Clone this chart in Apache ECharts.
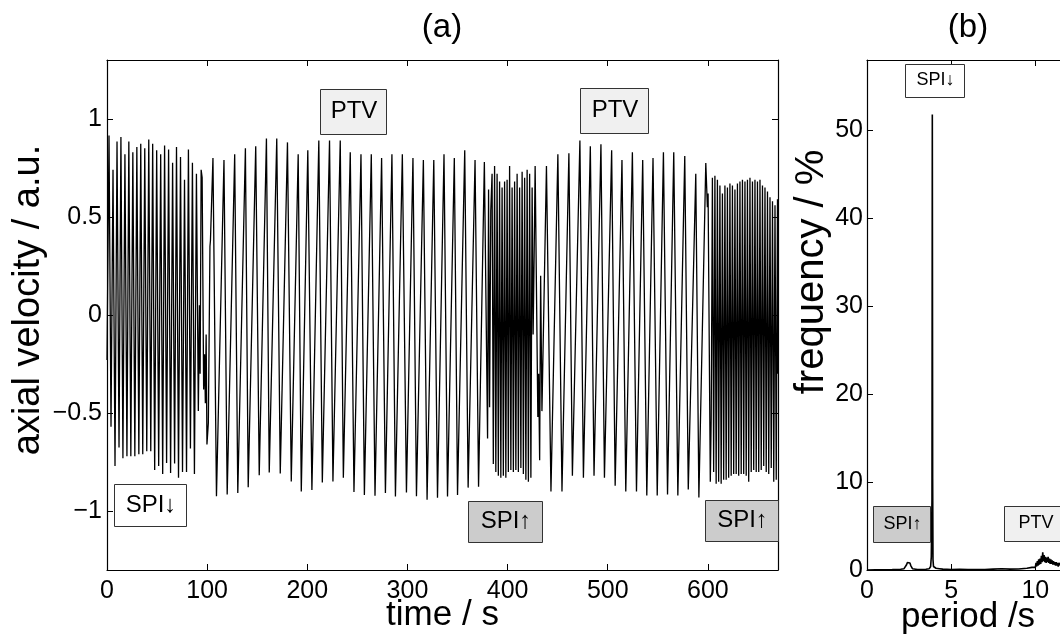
<!DOCTYPE html>
<html>
<head>
<meta charset="utf-8">
<script src="https://cdn.jsdelivr.net/npm/echarts@6/dist/echarts.min.js"></script>
<style>html,body{margin:0;padding:0;background:#fff}#c{width:1060px;height:635px}</style>
</head>
<body>
<div id="c"></div>
<script>
// ---------- Panel (a): axial velocity vs time (extrema) ----------
const spiDownSeg = [[0,-0.23],[2.0,0.915],[4.0,-0.57],[6.0,0.74],[8.0,-0.77],[10.0,0.885],[12.0,-0.675],[13.9,0.907],[15.9,-0.73],[17.9,0.82],[19.9,-0.72],[21.8,0.885],[23.8,-0.72],[25.8,0.83],[27.8,-0.72],[29.8,0.856],[31.8,-0.71],[33.7,0.873],[35.7,-0.71],[37.7,0.85],[39.7,-0.695],[41.7,0.895],[43.7,-0.695],[45.6,0.873],[47.6,-0.79],[49.6,0.84],[51.6,-0.77],[53.6,0.82],[55.6,-0.81],[57.5,0.864],[59.5,-0.754],[61.5,0.844],[63.5,-0.805],[65.5,0.776],[67.5,-0.757],[69.4,0.856],[71.4,-0.83],[73.4,0.805],[75.4,-0.80],[77.4,0.69],[79.4,-0.80],[81.3,0.844],[83.3,-0.68],[85.3,0.776],[87.3,-0.81],[89.3,0.72],[91.2,-0.49],[92.3,0.05],[93.0,-0.3],[94.0,0.74],[95.0,0.70],[96.5,-0.38],[97.4,-0.2],[98.2,-0.45],[99.0,-0.1],[99.8,-0.66],[101.2,-0.55],[102.8,0.35],[103.3,0.38]];
const ptvSeg1 = [[105.8,0.80],[109.3,-0.924],[116.8,0.79],[120.0,-0.915],[127.5,0.82],[130.6,-0.907],[138.2,0.85],[141.0,-0.878],[148.5,0.86],[152.0,-0.817],[159.2,0.90],[162.0,-0.803],[169.5,0.90],[173.0,-0.808],[180.2,0.88],[184.0,-0.849],[190.9,0.82],[194.0,-0.90],[200.5,0.84],[204.6,-0.892],[211.5,0.89],[215.0,-0.854],[222.2,0.89],[225.6,-0.849],[232.9,0.89],[236.0,-0.83],[242.9,0.83],[246.6,-0.902],[253.6,0.82],[257.0,-0.917],[263.9,0.82],[267.6,-0.922],[274.2,0.80],[278.0,-0.907],[284.5,0.82],[288.0,-0.925],[294.9,0.82],[299.0,-0.905],[305.5,0.80],[309.0,-0.924],[315.9,0.79],[319.6,-0.942],[326.3,0.79],[330.0,-0.932],[336.5,0.82],[340.0,-0.925],[346.8,0.80],[350.0,-0.917],[357.2,0.84],[360.6,-0.88],[367.5,0.79],[371.0,-0.876],[376.8,0.78],[380.0,-0.63],[381.0,0.64],[382.0,-0.47],[383.2,0.53]];
const spiUpSeg1 = [[384.5,0.72],[385.75,-0.76],[387.0,0.76],[388.25,-0.80],[389.5,0.72],[390.75,-0.82],[392.0,0.68],[393.25,-0.83],[394.5,0.65],[395.75,-0.82],[397.0,0.68],[398.25,-0.83],[399.5,0.69],[400.75,-0.80],[402.0,0.76],[403.25,-0.79],[404.5,0.65],[405.75,-0.80],[407.0,0.68],[408.25,-0.79],[409.5,0.72],[410.75,-0.80],[412.0,0.65],[413.25,-0.78],[414.5,0.73],[415.75,-0.81],[417.0,0.70],[418.25,-0.84],[419.5,0.74],[420.75,-0.85],[422.0,0.72],[423.25,-0.83]];
const ptvSeg2 = [[424.5,0.65],[425.5,-0.1],[426.5,0.3],[427.5,0.76],[430.2,-0.52],[431.0,-0.3],[432.0,-0.74],[433.0,0.2],[434.3,-0.49],[438.8,0.76],[443.3,-0.90],[450.2,0.82],[454.3,-0.90],[461.2,0.825],[464.7,-0.82],[472.2,0.89],[475.7,-0.83],[482.6,0.86],[486.3,-0.82],[493.2,0.87],[496.7,-0.83],[503.9,0.84],[507.4,-0.87],[514.2,0.79],[518.0,-0.90],[524.6,0.83],[528.7,-0.90],[534.9,0.79],[539.0,-0.92],[545.2,0.80],[549.4,-0.92],[555.6,0.83],[559.7,-0.915],[565.9,0.83],[570.0,-0.92],[576.9,0.81],[580.4,-0.89],[587.9,0.72],[591.0,-0.93],[597.9,0.775],[599.5,0.55],[600.2,0.62],[602.4,-0.85],[603.3,-0.53]];
const spiUpSeg2 = [[604.5,0.70],[605.75,-0.80],[607.0,0.71],[608.25,-0.86],[609.5,0.69],[610.75,-0.85],[612.0,0.66],[613.25,-0.86],[614.5,0.62],[615.75,-0.84],[617.0,0.66],[618.25,-0.84],[619.5,0.65],[620.75,-0.83],[622.0,0.67],[623.25,-0.82],[624.5,0.66],[625.75,-0.81],[627.0,0.64],[628.25,-0.81],[629.5,0.67],[630.75,-0.82],[632.0,0.68],[633.25,-0.81],[634.5,0.69],[635.75,-0.81],[637.0,0.68],[638.25,-0.82],[639.5,0.69],[640.75,-0.85],[642.0,0.70],[643.25,-0.80],[644.5,0.68],[645.75,-0.79],[647.0,0.69],[648.25,-0.80],[649.5,0.68],[650.75,-0.80],[652.0,0.69],[653.25,-0.79],[654.5,0.66],[655.75,-0.77],[657.0,0.65],[658.25,-0.80],[659.5,0.63],[660.75,-0.81],[662.0,0.60],[663.25,-0.78],[664.5,0.58],[665.75,-0.85],[667.0,0.56],[668.25,-0.84],[669.5,0.59],[670.0,-0.3]];

// ---------- Panel (b): frequency vs period ----------
const periodB = [0,0.5,1.0,1.5,1.8,2.0,2.2,2.3,2.35,2.4,2.45,2.5,2.55,2.6,2.65,2.7,2.8,3.0,3.2,3.5,3.7,3.78,3.82,3.86,3.88,3.9,3.92,3.95,4.0,4.1,4.2,4.3,4.5,5.0,5.5,6.0,6.5,7.0,7.5,8.0,8.5,9.0,9.5,9.8,10.0,10.04,10.08,10.12,10.16,10.2,10.24,10.28,10.32,10.36,10.4,10.44,10.48,10.52,10.56,10.6,10.64,10.68,10.72,10.76,10.8,10.84,10.88,10.92,10.96,11.0,11.04,11.08,11.12,11.16,11.2,11.24,11.28,11.32,11.36,11.4,11.5,11.6,11.7,11.8,12.0];
const freqB   = [0,0.02,0.03,0.04,0.05,0.08,0.15,0.35,0.6,0.85,0.95,1.0,0.8,0.5,0.3,0.15,0.08,0.05,0.05,0.08,0.15,0.4,1.5,8.0,51.8,10.4,1.2,0.4,0.3,0.2,0.4,0.15,0.1,0.05,0.08,0.05,0.06,0.05,0.1,0.15,0.1,0.12,0.2,0.3,0.3,0.8,0.4,1.0,0.5,1.2,0.6,1.3,0.7,1.6,0.9,2.0,1.0,1.7,0.9,1.5,0.8,1.4,0.9,1.5,0.8,1.3,0.7,1.2,0.7,1.1,0.6,1.0,0.6,0.9,0.5,0.9,0.5,0.8,0.4,0.8,0.5,0.6,0.4,0.5,0.3];

const xTicksA = [0,100,200,300,400,500,600];
const yTicksA = [-1,-0.5,0,0.5,1];
const yTicksB = [0,10,20,30,40,50];
const xTicksB = [0,5,10];

const seriesA = [].concat(spiDownSeg, ptvSeg1, spiUpSeg1, ptvSeg2, spiUpSeg2);
const seriesB = periodB.map((p,i)=>[p,freqB[i]]);

const FONT = "'Liberation Sans', Arial, Helvetica, sans-serif";
const minus = v => String(v).replace('-', '\u2212');

function axisBase(extra){
  return Object.assign({
    type:'value',
    nameMoveOverlap:false,
    axisLine:{show:true, onZero:false, lineStyle:{color:'#000', width:1.2}},
    axisTick:{show:true, inside:true, length:6, lineStyle:{color:'#000', width:1}},
    splitLine:{show:false},
    axisLabel:{color:'#000', fontSize:25, fontFamily:FONT, margin:9},
    nameTextStyle:{color:'#000', fontSize:34, fontFamily:FONT}
  }, extra);
}

function box(x,y,w,h,text,fill,fs){
  return {type:'group', x:x, y:y, z:100, children:[
    {type:'rect', z:100, shape:{x:0.5,y:0.5,width:w,height:h}, style:{fill:fill, stroke:'#333', lineWidth:1}},
    {type:'text', z:101, x:w/2+1, y:h/2, style:{text:text, fill:'#000', fontSize:fs, fontFamily:FONT, align:'center', verticalAlign:'middle'}}
  ]};
}

const chart = echarts.init(document.getElementById('c'), null, {renderer:'canvas'});
const yTickA = {show:true, inside:true, length:6, lineStyle:{color:'#000', width:1}, customValues:yTicksA};
const option = {
  backgroundColor:'#fff',
  animation:false,
  grid:[
    {left:107, top:60, width:671, height:510, containLabel:false, outerBoundsMode:'none'},
    {left:867, top:60, width:202, height:510, containLabel:false, outerBoundsMode:'none'}
  ],
  xAxis:[
    axisBase({gridIndex:0, position:'bottom', min:0, max:670, interval:100,
      axisLabel:{color:'#000', fontSize:25, fontFamily:FONT, margin:9, showMaxLabel:false,
        formatter:v => xTicksA.includes(v) ? String(v) : ''},
      name:'time / s', nameLocation:'middle', nameGap:28,
      nameTextStyle:{color:'#000', fontSize:35, fontFamily:FONT}}),
    axisBase({gridIndex:0, position:'top', min:0, max:670, interval:100, axisLabel:{show:false}}),
    axisBase({gridIndex:1, position:'bottom', min:0, max:12, interval:5,
      axisLabel:{color:'#000', fontSize:25, fontFamily:FONT, margin:9, showMaxLabel:false,
        formatter:v => xTicksB.includes(v) ? String(v) : ''},
      name:'period /s', nameLocation:'middle', nameGap:30,
      nameTextStyle:{color:'#000', fontSize:35, fontFamily:FONT}}),
    axisBase({gridIndex:1, position:'top', min:0, max:12, interval:5, axisLabel:{show:false}})
  ],
  yAxis:[
    axisBase({gridIndex:0, position:'left', min:-1.3, max:1.3,
      axisTick:yTickA,
      axisLabel:{color:'#000', fontSize:25, fontFamily:FONT, margin:5, customValues:yTicksA,
        formatter:v => minus(v)},
      name:'axial velocity / a.u.', nameLocation:'middle', nameGap:59,
      nameTextStyle:{color:'#000', fontSize:38, fontFamily:FONT, padding:[0,0,0,30]}}),
    axisBase({gridIndex:0, position:'right', min:-1.3, max:1.3, axisTick:yTickA, axisLabel:{show:false}}),
    axisBase({gridIndex:1, position:'left', min:0, max:58, interval:10,
      axisLabel:{color:'#000', fontSize:25, fontFamily:FONT, margin:4, showMaxLabel:false,
        formatter:v => yTicksB.includes(v) ? String(v) : ''},
      name:'frequency / %', nameLocation:'middle', nameGap:35,
      nameTextStyle:{color:'#000', fontSize:40, fontFamily:FONT, padding:[0,0,0,86]}}),
    axisBase({gridIndex:1, position:'right', min:0, max:58, interval:10, axisLabel:{show:false}})
  ],
  series:[
    {type:'line', name:'axial velocity', xAxisIndex:0, yAxisIndex:0, data:seriesA, showSymbol:false, symbol:'none',
      lineStyle:{color:'#000', width:1.3}, clip:true, z:5},
    {type:'line', name:'frequency', xAxisIndex:2, yAxisIndex:2, data:seriesB, showSymbol:false, symbol:'none',
      lineStyle:{color:'#000', width:1.6}, clip:true, z:5}
  ],
  graphic:[
    {type:'text', x:442, y:28, style:{text:'(a)', fill:'#000', fontSize:33, fontFamily:FONT, align:'center', verticalAlign:'middle'}},
    {type:'text', x:968, y:28, style:{text:'(b)', fill:'#000', fontSize:33, fontFamily:FONT, align:'center', verticalAlign:'middle'}},
    box(320,89,66,45,'PTV','#f0f0f0',24),
    box(580,88,68,45,'PTV','#f0f0f0',24),
    box(114,484,72,42,'SPI\u2193','#ffffff',24),
    box(468,501,74,41,'SPI\u2191','#cccccc',24),
    box(705,500,73,41,'SPI\u2191','#cccccc',24),
    box(905,64,59,33,'SPI\u2193','#ffffff',18),
    box(873,506,57,36,'SPI\u2191','#cccccc',18),
    box(1004,506,62,35,'PTV','#f0f0f0',18)
  ]
};
chart.setOption(option);
</script>
</body>
</html>
